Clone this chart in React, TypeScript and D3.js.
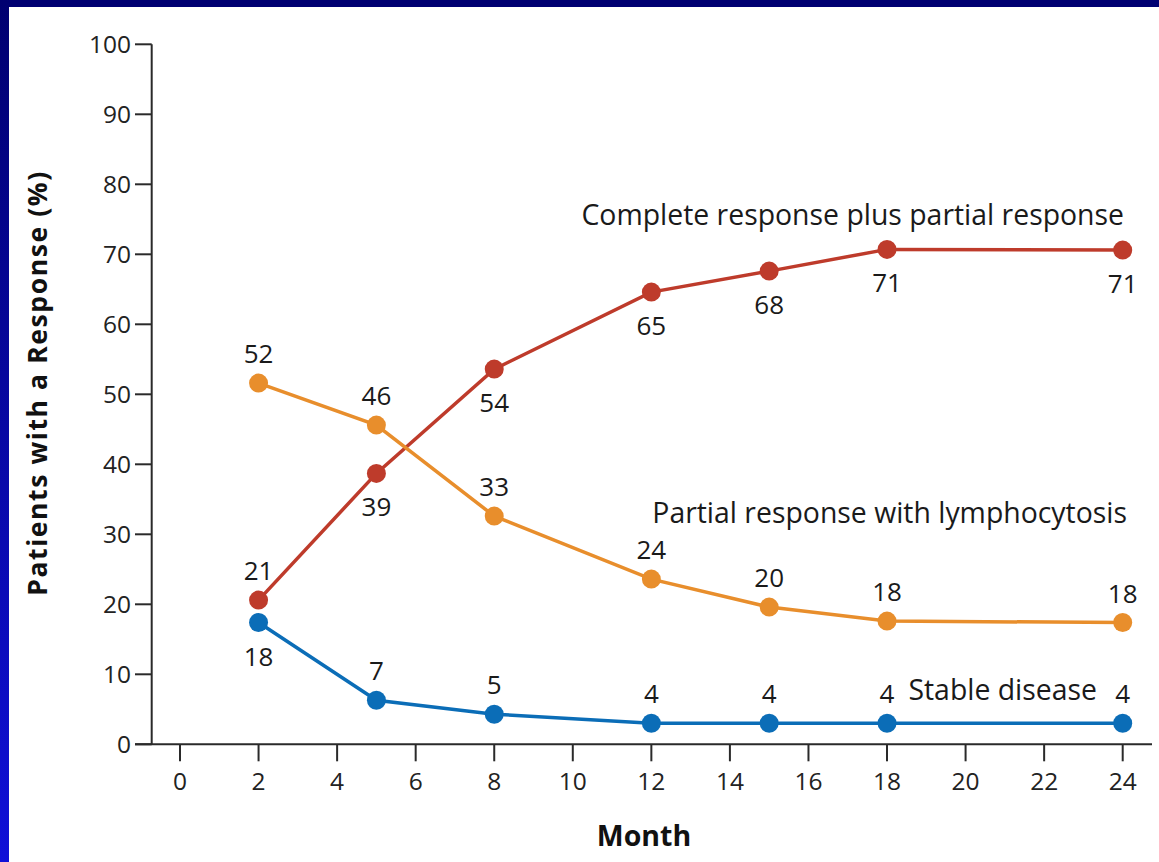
import React from "react";
import * as d3 from "d3";

const months = [2, 5, 8, 12, 15, 18, 24];
const crprValues = [20.6, 38.7, 53.6, 64.6, 67.6, 70.7, 70.6];
const crprLabels = ["21", "39", "54", "65", "68", "71", "71"];
const prlValues = [51.6, 45.6, 32.6, 23.6, 19.6, 17.6, 17.4];
const prlLabels = ["52", "46", "33", "24", "20", "18", "18"];
const sdValues = [17.4, 6.3, 4.3, 3.0, 3.0, 3.0, 3.0];
const sdLabels = ["18", "7", "5", "4", "4", "4", "4"];
const xTicks = [0, 2, 4, 6, 8, 10, 12, 14, 16, 18, 20, 22, 24];
const yTicks = [0, 10, 20, 30, 40, 50, 60, 70, 80, 90, 100];

const W = 1159;
const H = 862;
const FONT = "'Open Sans', 'DejaVu Sans', sans-serif";

export default function App() {
  const x = d3.scaleLinear().domain([0, 24]).range([180, 1122.7]);
  const y = d3.scaleLinear().domain([0, 100]).range([744.3, 44.3]);
  const line = d3
    .line<number>()
    .x((_, i) => x(months[i]))
    .y((d) => y(d));

  const series = [
    {
      name: "crpr",
      values: crprValues,
      labels: crprLabels,
      color: "#BE3B2B",
      pos: ["above", "below", "below", "below", "below", "below", "below"],
    },
    {
      name: "prl",
      values: prlValues,
      labels: prlLabels,
      color: "#E88E2C",
      pos: ["above", "above", "above", "above", "above", "above", "above"],
    },
    {
      name: "sd",
      values: sdValues,
      labels: sdLabels,
      color: "#0B6DB7",
      pos: ["below", "above", "above", "above", "above", "above", "above"],
    },
  ];

  return (
    <svg
      width={W}
      height={H}
      style={{ position: "absolute", left: 0, top: 0, background: "#fff" }}
      fontFamily={FONT}
    >
      <defs>
        <linearGradient id="leftBar" x1="0" y1="0" x2="0" y2="1">
          <stop offset="0%" stopColor="#000070" />
          <stop offset="100%" stopColor="#1010D8" />
        </linearGradient>
      </defs>
      <rect x={0} y={0} width={W} height={H} fill="#fff" />
      <rect x={0} y={0} width={W} height={7} fill="#000072" />
      <rect x={0} y={0} width={9} height={H} fill="url(#leftBar)" />

      {/* y axis */}
      <line x1={151.7} x2={151.7} y1={y(100)} y2={y(0)} stroke="#2a2a2a" strokeWidth={2} />
      {yTicks.map((t) => (
        <g key={"y" + t}>
          <line x1={135} x2={151.7} y1={y(t)} y2={y(t)} stroke="#2a2a2a" strokeWidth={2} />
          <text x={131} y={y(t)} dy="0.36em" textAnchor="end" fontSize={24.5} fill="#222">
            {t}
          </text>
        </g>
      ))}
      {/* x axis */}
      <line x1={135} x2={1152} y1={y(0)} y2={y(0)} stroke="#2a2a2a" strokeWidth={2} />
      {xTicks.map((t) => (
        <g key={"x" + t}>
          <line x1={x(t)} x2={x(t)} y1={y(0)} y2={y(0) + 17} stroke="#2a2a2a" strokeWidth={2} />
          <text x={x(t)} y={790} textAnchor="middle" fontSize={24.5} fill="#222">
            {t}
          </text>
        </g>
      ))}

      <text
        transform={`translate(47, 383) rotate(-90)`}
        textAnchor="middle"
        fontSize={26.5}
        fontWeight="bold"
        letterSpacing={1.6}
        fill="#111"
      >
        Patients with a Response (%)
      </text>
      <text x={644} y={846} textAnchor="middle" fontSize={28.5} fontWeight="bold" fill="#111">
        Month
      </text>

      {series.map((s) => (
        <g key={s.name}>
          <path d={line(s.values) || ""} fill="none" stroke={s.color} strokeWidth={3.5} />
          {s.values.map((v, i) => (
            <circle key={i} cx={x(months[i])} cy={y(v)} r={9.5} fill={s.color} />
          ))}
          {s.values.map((v, i) => (
            <text
              key={"l" + i}
              x={x(months[i])}
              y={s.pos[i] === "above" ? y(v) - 20 : y(v) + 43}
              textAnchor="middle"
              fontSize={26}
              fill="#1a1a1a"
            >
              {s.labels[i]}
            </text>
          ))}
        </g>
      ))}

      <text x={1124} y={225} textAnchor="end" fontSize={28.4} fill="#1a1a1a">
        Complete response plus partial response
      </text>
      <text x={1127} y={523} textAnchor="end" fontSize={28.4} fill="#1a1a1a">
        Partial response with lymphocytosis
      </text>
      <text x={1097} y={700} textAnchor="end" fontSize={28.4} fill="#1a1a1a">
        Stable disease
      </text>
    </svg>
  );
}
